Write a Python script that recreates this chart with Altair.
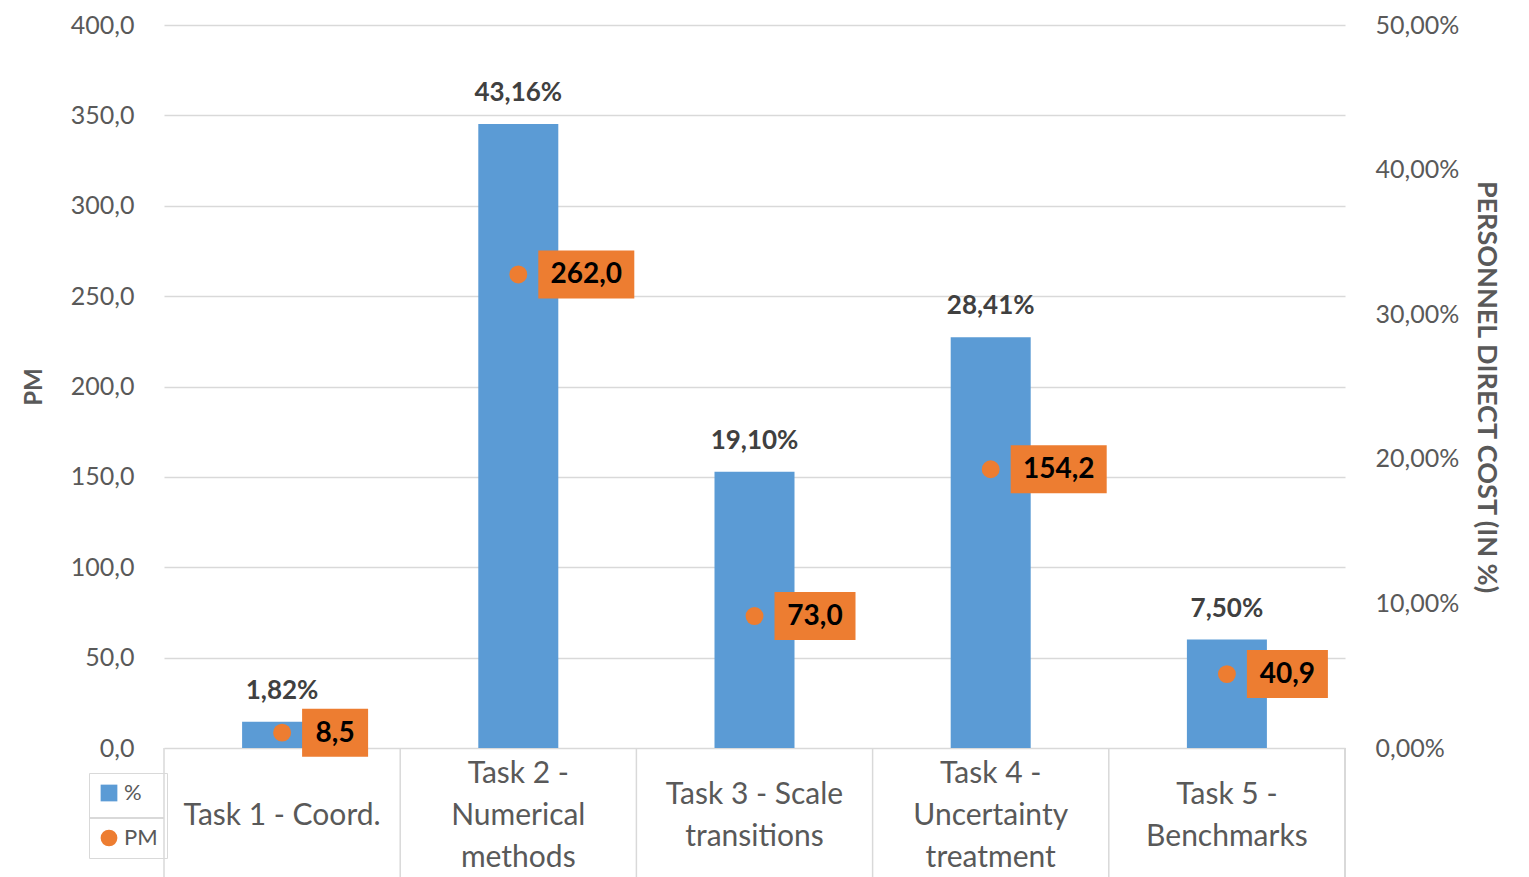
import altair as alt
import pandas as pd

tasks = ["Task 1 - Coord.", "Task 2 -|Numerical|methods", "Task 3 - Scale|transitions",
         "Task 4 -|Uncertainty|treatment", "Task 5 -|Benchmarks"]
pct = [0.0182, 0.4316, 0.1910, 0.2841, 0.0750]
pm = [8.5, 262.0, 73.0, 154.2, 40.9]
left_ticks = [0, 50, 100, 150, 200, 250, 300, 350, 400]
right_ticks = [0.0, 0.1, 0.2, 0.3, 0.4, 0.5]

df = pd.DataFrame({"task": tasks, "pct": pct, "pm": pm})

W, H = 1181, 723
FONT = "Lato"
GRAY = "#595959"
GRID = "#d9d9d9"
BLUE = "#5B9BD5"
ORANGE = "#ED7D31"

xaxis = alt.Axis(title=None, labels=False, ticks=False, tickSize=0, domain=False, grid=False)
xenc = alt.X("task:N", sort=tasks, scale=alt.Scale(paddingInner=0, paddingOuter=0), axis=xaxis)

color_scale = alt.Scale(domain=["%", "PM"], range=[BLUE, ORANGE])
legend = alt.Legend(title=None, orient="none", legendX=-75, legendY=748, labelFontSize=22,
                    labelColor=GRAY, labelFont=FONT, symbolSize=280, strokeColor=GRID,
                    padding=9, rowPadding=23, labelOffset=4, symbolStrokeWidth=0,
                    symbolOpacity=1)

yr = alt.Y("pct:Q", scale=alt.Scale(domain=[0, 0.5], nice=False),
           axis=alt.Axis(orient="right", title="PERSONNEL DIRECT COST (IN %)", values=right_ticks,
                         labelExpr="replace(format(datum.value, '.2%'), '.', ',')",
                         grid=False, domain=False, ticks=False, labelPadding=30,
                         labelFontSize=25, labelColor=GRAY, labelFont=FONT,
                         titleFontSize=27, titleFont=FONT,
                         titleFontWeight="bold", titleColor=GRAY, titlePadding=13))

yl = alt.Y("pm:Q", scale=alt.Scale(domain=[0, 400], nice=False),
           axis=alt.Axis(title="PM", values=left_ticks,
                         labelExpr="replace(format(datum.value, '.1f'), '.', ',')",
                         grid=True, gridColor=GRID, gridWidth=1.5, domain=False, ticks=False,
                         labelPadding=30, labelFontSize=25, labelColor=GRAY, labelFont=FONT,
                         titleFontSize=24, titleFontWeight="bold", titleColor=GRAY, titleFont=FONT,
                         titlePadding=24))

base = alt.Chart(df)

bars = base.transform_calculate(series="'%'").mark_bar(width=80).encode(
    x=xenc,
    y=yr,
    color=alt.Color("series:N", scale=color_scale, legend=legend),
)

bar_labels = base.transform_calculate(
    lab="replace(format(datum.pct, '.2%'), '.', ',')"
).mark_text(dy=-31, fontSize=26, fontWeight="bold", color="#404040", font=FONT).encode(
    x=xenc,
    y=yr,
    text="lab:N",
)

bar_layer = alt.layer(bars, bar_labels)

points = base.transform_calculate(series="'PM'").mark_point(filled=True, size=320, opacity=1).encode(
    x=xenc,
    y=yl,
    color=alt.Color("series:N", scale=color_scale, legend=legend),
    shape=alt.Shape("series:N", scale=alt.Scale(domain=["%", "PM"], range=["square", "circle"]),
                    legend=legend),
)

pm_calc = base.transform_calculate(
    lab="replace(format(datum.pm, '.1f'), '.', ',')"
).transform_calculate(w="length(datum.lab) * 15 + 21")

boxes = pm_calc.mark_rect(color=ORANGE, width=alt.ExprRef("datum.w"),
                          xOffset=alt.ExprRef("20 + datum.w / 2"), yOffset=-24, y2Offset=24).encode(
    x=xenc,
    y=yl,
    y2="pm:Q",
)

box_text = pm_calc.mark_text(fontSize=28, fontWeight="bold", color="black", font=FONT,
                             baseline="middle", dx=alt.ExprRef("20 + datum.w / 2"), dy=1).encode(
    x=xenc,
    y=yl,
    text="lab:N",
)

# category table below the plot
edges = base.mark_rule(color=GRID, strokeWidth=1.5).encode(
    x=alt.X("task:N", sort=tasks, bandPosition=0, axis=xaxis),
    y=alt.value(H), y2=alt.value(H + 140),
)
right_edge = base.mark_rule(color=GRID, strokeWidth=1.5).encode(
    x=alt.value(W), y=alt.value(H), y2=alt.value(H + 140),
)
cat_text = base.mark_text(lineBreak="|", lineHeight=42, baseline="middle", fontSize=30,
                          color=GRAY, font=FONT,
                          dy=alt.ExprRef("(1 - length(split(datum.task, '|'))) * 21")).encode(
    x=xenc,
    y=alt.value(H + 68),
    text="task:N",
)
legend_divider = base.mark_rule(color=GRID, strokeWidth=1.5).encode(
    x=alt.value(-75), x2=alt.value(0), y=alt.value(H + 70),
)

pm_layer = alt.layer(points, boxes, box_text, edges, right_edge, cat_text, legend_divider)

chart = alt.layer(bar_layer, pm_layer).resolve_scale(y="independent").properties(
    width=W, height=H,
    background="white",
    autosize=alt.AutoSizeParams(type="none"),
    padding={"left": 164, "top": 25, "right": 184, "bottom": 129},
).configure_view(
    stroke="transparent", strokeWidth=0
).configure_axis(domain=False)

chart.save("out.html", embed_options={"renderer": "svg", "actions": False})
